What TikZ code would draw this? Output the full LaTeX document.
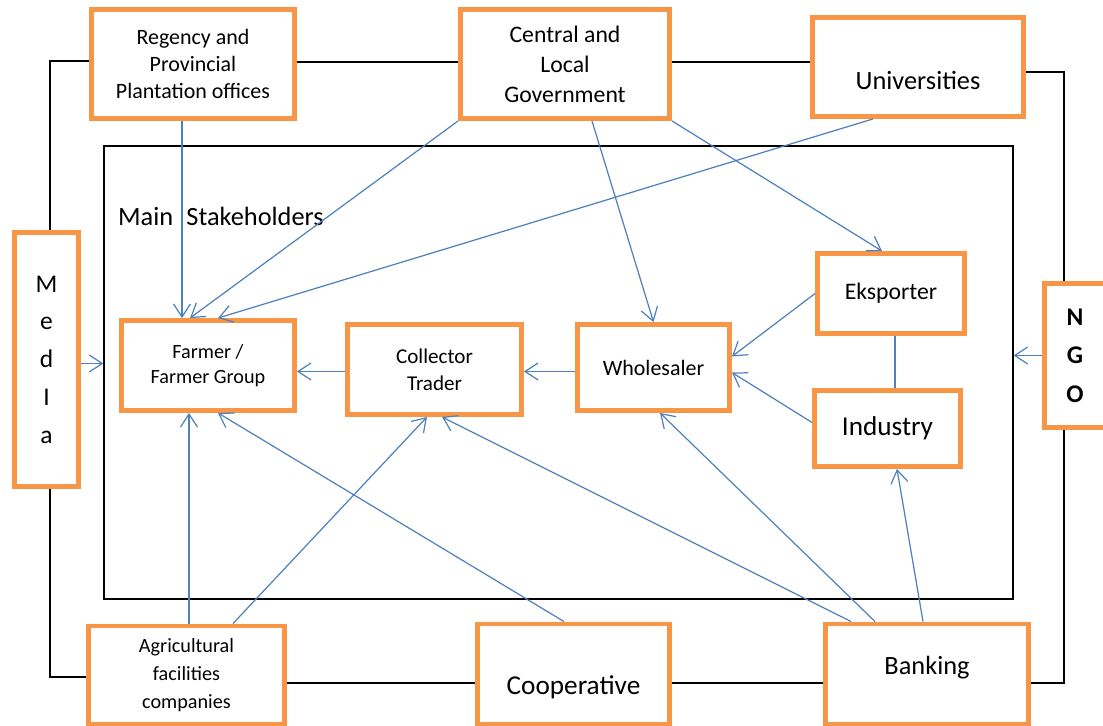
\documentclass[tikz,border=0pt]{standalone}
\usepackage{fontspec}
\setmainfont{Carlito}
\usetikzlibrary{calc}
\usetikzlibrary{arrows.meta}
\definecolor{boxorange}{HTML}{F79646}
\definecolor{linkblue}{HTML}{4F81BD}

\begin{document}
\begin{tikzpicture}[x=0.02cm,y=-0.02cm]
\tikzstyle{box}=[draw=boxorange, fill=white, rectangle, line width=2.8pt, align=center, inner sep=1pt]
\tikzstyle{flow}=[draw=linkblue, line width=0.7pt, -{Straight Barb[length=0.26cm,width=0.34cm]}]
\tikzstyle{link}=[draw=black, line width=0.7pt]

\useasboundingbox (0,0) rectangle (1103,726);

\node (stake) at (558.5,372.5) [draw, line width=0.8pt, minimum width=18.18cm, minimum height=9.06cm, inner sep=0pt] {};
\node (title) at (112,216) [anchor=west, font=\fontsize{15}{18}\selectfont] {Main\hspace{0.5em}Stakeholders};

\node (regency) at (193,64) [box, minimum width=4.06cm, minimum height=2.18cm, font=\fontsize{12.5}{15.3}\selectfont] {Regency and\\Provincial\\Plantation offices};
\node (gov) at (565,64) [box, minimum width=4.18cm, minimum height=2.18cm, font=\fontsize{13.5}{17}\selectfont] {Central and\\Local\\Government};
\node (univ) at (918,67) [box, minimum width=4.22cm, minimum height=1.98cm, label={[font=\fontsize{15}{18}\selectfont, yshift=-0.26cm]center:Universities}] {};
\node (media) at (46.5,359.5) [box, minimum width=1.28cm, minimum height=5.08cm, font=\fontsize{14.5}{21.5}\selectfont] {M\\e\\d\\I\\a};
\node (ngo) at (1075,355.5) [box, minimum width=1.22cm, minimum height=2.88cm, font=\bfseries\fontsize{14.5}{22}\selectfont] {N\\G\\O};

\node (farmer) at (208,365.5) [box, minimum width=3.46cm, minimum height=1.8cm, font=\fontsize{11.5}{14}\selectfont] {Farmer /\\Farmer Group};
\node (collector) at (434.5,369.5) [box, minimum width=3.48cm, minimum height=1.8cm, font=\fontsize{12}{15.3}\selectfont] {Collector\\Trader};
\node (wholesaler) at (653.5,367.5) [box, minimum width=3.04cm, minimum height=1.72cm, font=\fontsize{12.5}{15}\selectfont] {Wholesaler};
\node (eksporter) at (891,293.5) [box, minimum width=2.94cm, minimum height=1.6cm, font=\fontsize{13.5}{16}\selectfont] {Eksporter};
\node (industry) at (887.5,428.5) [box, minimum width=2.92cm, minimum height=1.52cm, font=\fontsize{15.5}{18}\selectfont] {Industry};

\node (agri) at (186.5,675) [box, minimum width=3.92cm, minimum height=1.96cm, font=\fontsize{11.5}{16}\selectfont] {Agricultural\\facilities\\companies};
\node (coop) at (573.5,674) [box, minimum width=3.84cm, minimum height=2cm, label={[font=\fontsize{15.5}{18}\selectfont, yshift=-0.26cm]center:Cooperative}] {};
\node (bank) at (927,674) [box, minimum width=4.06cm, minimum height=2cm, label={[font=\fontsize{15}{18}\selectfont, yshift=0.12cm]center:Banking}] {};

\draw[link] ($(regency.west)+(0,-3)$) -| ($(media.north)+(3.5,0)$);
\draw[link] ($(regency.east)+(0,-2)$) -- ($(gov.west)+(0,-2)$);
\draw[link] ($(gov.east)+(0,-2)$) coordinate (g) -- (g -| univ.west);
\draw[link] ($(univ.east)+(0,5)$) -| ($(ngo.north)+(-11,0)$);
\draw[link] ($(ngo.south)+(-11,0)$) |- ($(bank.east)+(0,9)$);
\draw[link] ($(media.south)+(3.5,0)$) |- ($(agri.west)+(0,2)$);
\draw[link] ($(agri.east)+(0,8)$) coordinate (f) -- (f -| coop.west);
\draw[link] ($(coop.east)+(0,9)$) coordinate (k) -- (k -| bank.west);

\draw[flow] ($(regency.south)+(-11,0)$) -- ($(farmer.north)+(-26,0)$);
\draw[flow] (gov.south west) -- ($(farmer.north)+(-18,0)$);
\draw[flow] ($(univ.south)+(-45,0)$) -- ($(farmer.north)+(10,0)$);
\draw[flow] ($(gov.south)+(27,0)$) -- (wholesaler.north);
\draw[flow] (gov.south east) -- ($(eksporter.north)+(-9,0)$);
\draw[flow] (eksporter.west) -- ($(wholesaler.east)+(0,-11)$);
\draw[flow] ($(industry.west)+(0,-6)$) -- ($(wholesaler.east)+(0,5)$);
\draw[draw=linkblue, line width=0.7pt] ($(eksporter.south)+(4,0)$) coordinate (ek) -- (ek |- industry.north);
\draw[flow] ($(wholesaler.west)+(0,4)$) coordinate (w) -- (w -| collector.east);
\draw[flow] ($(collector.west)+(0,2)$) coordinate (c) -- (c -| farmer.east);
\draw[flow] ($(media.east)+(0,4)$) coordinate (m) -- (m -| stake.west);
\draw[flow] (ngo.west) -- (ngo.west -| stake.east);

\draw[flow] ($(agri.north)+(2.5,0)$) coordinate (a) -- (a |- farmer.south);
\draw[flow] ($(agri.north)+(46.5,0)$) -- ($(collector.south)+(-7.5,0)$);
\draw[flow] ($(coop.north)+(-9.5,0)$) -- ($(farmer.south)+(10,0)$);
\draw[flow] ($(bank.north)+(-76,0)$) -- ($(collector.south)+(7.5,0)$);
\draw[flow] ($(bank.north)+(-52,0)$) -- ($(wholesaler.south)+(6.5,0)$);
\draw[flow] ($(bank.north)+(-4,0)$) -- ($(industry.south)+(9.5,0)$);

\end{tikzpicture}
\end{document}
